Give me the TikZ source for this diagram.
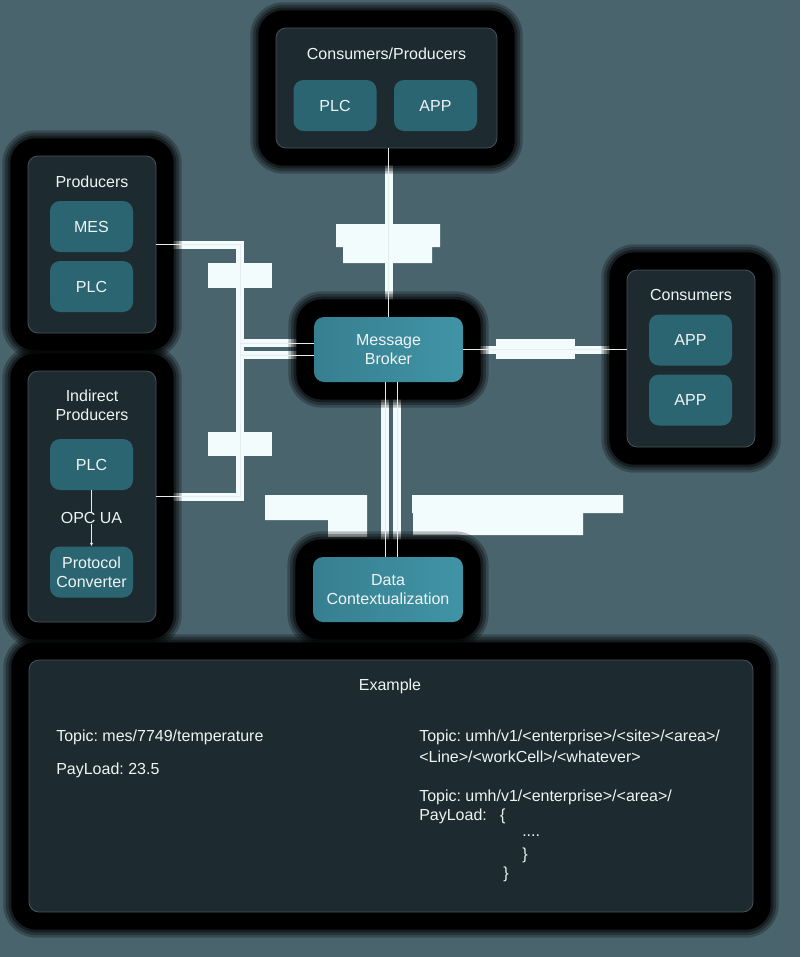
\documentclass[tikz,border=0pt]{standalone}
\usepackage{fontspec}
\setmainfont{Liberation Sans}
\frenchspacing
\usetikzlibrary{positioning,fit,backgrounds,arrows.meta}

\definecolor{slate}{HTML}{4A646D}
\definecolor{groupfill}{HTML}{1D2B30}
\definecolor{groupline}{HTML}{46555B}
\definecolor{itemfill}{HTML}{2C6572}
\definecolor{hubleft}{HTML}{367F90}
\definecolor{hubright}{HTML}{4094A6}
\definecolor{ink}{HTML}{EEF4F5}
\definecolor{wire}{HTML}{E4ECEE}
\definecolor{glare}{HTML}{F2FCFD}

% connectors, drawn twice: once as the wide glare, once as the thin line
\newcommand{\wiring}[1]{
  \draw[#1] (broker.north |- cp.south) -- (broker.north);
  \draw[#1] (prod.east) -| (bus) |- (inA);
  \draw[#1] (indir.east) -| (bus) |- (inB);
  \draw[#1] (broker.east) -- (cons.west |- broker.east);
  \draw[#1] (broker.south -| feedA) -- (ctx.north -| feedA);
  \draw[#1] (broker.south -| feedB) -- (ctx.north -| feedB);
}

\begin{document}
\begin{tikzpicture}[x=0.75pt,y=-0.75pt,
  font=\fontsize{12}{14.5}\selectfont,
  boxsize/.style 2 args={minimum width=#1*0.75pt,minimum height=#2*0.75pt},
  group node/.style={draw=groupline,fill=groupfill,line width=0.6pt,rounded corners=7.5pt,inner sep=0pt},
  item node/.style={fill=itemfill,rounded corners=7.5pt,text=ink,inner sep=0pt,align=center,boxsize={83}{51}},
  hub node/.style={left color=hubleft,right color=hubright,rounded corners=7.5pt,text=ink,inner sep=0pt,align=center,boxsize={149}{65}},
  title/.style={text=ink,align=center,inner sep=0pt},
  link/.style={draw=wire,line width=0.6pt},
  band/.style={draw=glare,line width=6pt},
  halo/.style={fill=black,rounded corners=#1+6pt,inner sep=#1}]

  \useasboundingbox (0,0) rectangle (800,957);

  % groups
  \node[group node,boxsize={221}{120}] (cp) at (386.5,88) {};
  \node[group node,boxsize={128}{177}] (prod) at (92,244.5) {};
  \node[group node,boxsize={128}{251}] (indir) at (92,496.5) {};
  \node[group node,boxsize={128}{177}] (cons) at (691,358.5) {};
  \node[group node,boxsize={724}{252}] (example) at (391,786) {};

  \node[title] (cpT) at (386.5,54) {Consumers/Producers};
  \node[item node] (cpPlc) at (335,105.5) {PLC};
  \node[item node] (cpApp) at (435.5,105.5) {APP};

  \node[title] (prodT) at (92,182) {Producers};
  \node[item node] (mes) at (91.5,226.5) {MES};
  \node[item node] (prodPlc) at (91.5,286.5) {PLC};

  \node[title] (indirT) at (92,405) {Indirect\\Producers};
  \node[item node] (indirPlc) at (91.5,464.5) {PLC};
  \node[title] (opc) at (91.5,518) {OPC UA};
  \node[item node] (conv) at (91.5,572) {Protocol\\Converter};

  \node[title] (consT) at (691,295) {Consumers};
  \node[item node] (appA) at (690.5,340) {APP};
  \node[item node] (appB) at (690.5,400) {APP};

  \node[hub node] (broker) at (388.5,349.5) {Message\\Broker};
  \node[hub node,boxsize={150}{65}] (ctx) at (388,589.5) {Data\\Contextualization};

  % example texts
  \node[title] (exT) at (390,686) {Example};
  \node[title,anchor=west] (topicA) at (56,737) {Topic: mes/7749/temperature};
  \node[title,anchor=west] (loadA) at (56,770) {PayLoad: 23.5};
  \node[title,anchor=west] (topicB) at (419,737) {Topic: umh/v1/<enterprise>/<site>/<area>/};
  \node[title,anchor=west] (topicB2) at (419,757) {<Line>/<workCell>/<whatever>};
  \node[title,anchor=west] (topicC) at (419,797) {Topic: umh/v1/<enterprise>/<area>/};
  \node[title,anchor=west] (loadC) at (419,816) {PayLoad:\hspace{10pt}\{};
  \node[title,anchor=west] (dots) at (522,836) {....};
  \node[title,anchor=west] (closeA) at (522,855) {\}};
  \node[title,anchor=west] (closeB) at (503,874) {\}};

  \coordinate (bus) at (240,349);
  \coordinate (inA) at (314,343);
  \coordinate (inB) at (314,355);
  \coordinate (feedA) at (385,0);
  \coordinate (feedB) at (397,0);

  \begin{scope}[on background layer]
    \fill[slate] (0,0) rectangle (800,957);
    \wiring{band}
    % unreadable connector labels
    \fill[glare] (336,224) rectangle (440,247) (343,247) rectangle (432,263);
    \fill[glare] (208,263) rectangle (272,288);
    \fill[glare] (208,432) rectangle (272,456);
    \fill[glare] (496,339) rectangle (575,359);
    \fill[glare] (265,495) rectangle (367,520) (328,520) rectangle (367,537);
    \fill[glare] (412,495) rectangle (623,513) (413,513) rectangle (583,535);
    % soft dark glow round every box
    \foreach \r/\o in {19pt/0.25,17pt/0.3,15pt/0.4,13pt/1}
      \foreach \g in {cp,prod,indir,cons,example,broker,ctx}
        \node[halo=\r,opacity=\o,fit=(\g)] {};
  \end{scope}

  \wiring{link}
  \draw[link] (indirPlc) -- (opc);
  \draw[link,-{Latex[length=2.5pt,width=2.5pt]}] (opc) -- (conv);
\end{tikzpicture}
\end{document}
